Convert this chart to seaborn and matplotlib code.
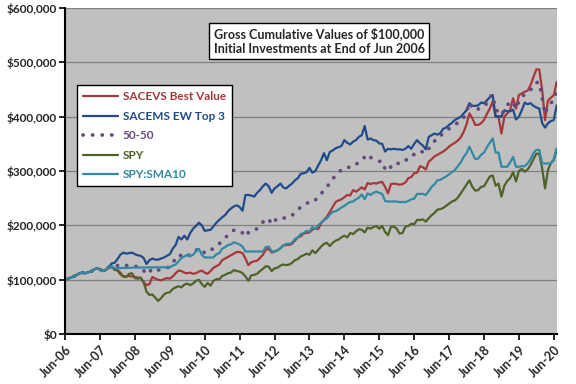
import pandas as pd
import matplotlib
matplotlib.use('Agg')
import matplotlib.pyplot as plt
from matplotlib.ticker import FuncFormatter
import seaborn as sns

# monthly gross values ($ thousands), Jun-06 .. Jul-20
sacevs = [
    100, 102, 104, 106, 109, 112, 113, 112, 114, 115, 119, 121,
    119, 116, 118, 123, 123, 120, 118, 113, 106, 106, 107, 106,
    105, 104, 103, 96, 90, 92, 105, 102, 100, 99, 101, 103,
    102, 106, 112, 117, 116, 113, 112, 113, 111, 112, 115, 117,
    113, 111, 116, 122, 125, 128, 136, 139, 142, 145, 148, 151,
    151, 149, 139, 127, 132, 134, 135, 140, 146, 155, 157, 150,
    152, 154, 158, 163, 164, 164, 166, 172, 178, 180, 185, 186,
    187, 192, 195, 193, 204, 210, 216, 225, 234, 243, 246, 248,
    252, 256, 255, 265, 262, 266, 270, 266, 278, 276, 278, 277,
    279, 280, 271, 259, 276, 277, 276, 275, 276, 279, 287, 289,
    296, 297, 309, 307, 303, 317, 322, 327, 330, 333, 336, 340,
    345, 349, 352, 356, 362, 372, 386, 406, 397, 385, 385, 388,
    394, 405, 415, 428, 400, 400, 369, 400, 406, 413, 434, 415,
    440, 443, 446, 448, 458, 473, 487, 487, 449, 394, 430, 435,
    440, 464]
sacems = [
    100, 102, 104, 106, 109, 112, 113, 112, 114, 115, 119, 121,
    119, 116, 118, 123, 130, 131, 138, 146, 150, 148, 149, 150,
    147, 145, 144, 140, 129, 136, 139, 137, 137, 139, 141, 144,
    147, 157, 164, 179, 174, 181, 174, 186, 194, 199, 205, 200,
    190, 191, 192, 198, 205, 210, 215, 219, 226, 231, 235, 237,
    234, 227, 256, 256, 255, 253, 260, 265, 272, 277, 272, 260,
    268, 272, 277, 270, 268, 273, 277, 283, 287, 295, 296, 298,
    306, 297, 300, 310, 320, 333, 320, 335, 338, 342, 344, 346,
    357, 352, 349, 354, 357, 363, 366, 383, 358, 360, 357, 356,
    351, 350, 336, 341, 340, 341, 340, 340, 339, 341, 346, 341,
    350, 357, 351, 347, 340, 363, 366, 369, 367, 370, 378, 380,
    385, 389, 394, 397, 400, 406, 412, 425, 420, 420, 421, 426,
    425, 430, 436, 440, 400, 401, 400, 412, 410, 410, 413, 395,
    400, 412, 426, 423, 425, 420, 417, 415, 388, 380, 388, 392,
    394, 421]
fifty_fifty = [
    100, 102, 104, 106, 109, 112, 113, 112, 114, 115, 119, 121,
    119, 116, 118, 123, 126, 125, 126, 128, 127, 126, 127, 127,
    125, 124, 122, 117, 110, 114, 121, 119, 118, 118, 120, 122,
    124, 131, 139, 146, 144, 145, 142, 148, 151, 154, 158, 155,
    149, 150, 154, 158, 162, 166, 172, 177, 182, 187, 191, 192,
    190, 186, 193, 186, 190, 191, 194, 199, 206, 212, 212, 202,
    208, 213, 215, 214, 213, 216, 218, 224, 228, 234, 238, 240,
    244, 248, 247, 251, 258, 265, 270, 279, 285, 293, 298, 302,
    305, 308, 306, 310, 312, 317, 320, 326, 320, 325, 323, 320,
    318, 318, 304, 300, 308, 315, 315, 313, 315, 319, 325, 326,
    331, 333, 337, 335, 333, 341, 350, 355, 363, 365, 369, 373,
    378, 381, 385, 389, 393, 398, 409, 426, 416, 412, 414, 418,
    419, 425, 437, 440, 412, 410, 403, 413, 421, 428, 426, 415,
    428, 437, 441, 445, 449, 458, 463, 463, 434, 405, 420, 425,
    432, 446]
spy = [
    100, 102, 104, 106, 109, 112, 113, 112, 114, 115, 119, 121,
    119, 116, 118, 123, 125, 118, 117, 110, 106, 105, 111, 112,
    103, 102, 104, 95, 78, 72, 73, 67, 61, 66, 73, 76,
    77, 83, 86, 88, 86, 91, 93, 90, 93, 98, 100, 92,
    87, 94, 89, 98, 101, 101, 107, 109, 112, 113, 118, 116,
    115, 112, 106, 98, 108, 109, 111, 116, 120, 125, 124, 116,
    121, 122, 126, 128, 127, 128, 131, 136, 138, 143, 145, 148,
    146, 154, 149, 155, 161, 166, 168, 162, 168, 172, 174, 178,
    181, 178, 186, 184, 189, 193, 192, 187, 196, 194, 197, 199,
    194, 199, 188, 182, 197, 198, 194, 185, 186, 198, 199, 203,
    202, 210, 210, 211, 207, 213, 219, 223, 229, 230, 232, 236,
    240, 244, 246, 251, 259, 267, 275, 283, 271, 264, 265, 271,
    272, 281, 290, 292, 273, 277, 253, 273, 282, 287, 298, 281,
    300, 304, 299, 303, 311, 322, 332, 332, 305, 268, 302, 315,
    321, 341]
spy_sma10 = [
    100, 102, 104, 106, 109, 112, 113, 112, 114, 115, 119, 121,
    119, 116, 118, 123, 125, 121, 121.3, 121.5, 121.7, 121.9, 122.1, 122.2,
    122.3, 122.4, 122.5, 122.6, 122.7, 122.8, 122.8, 122.8, 122.8, 122.8, 122.8, 122.8,
    123, 126, 128, 134, 140, 143, 146, 143, 146, 152, 157, 146,
    141, 141, 141, 141, 147, 149, 157, 160, 164, 165, 169, 167,
    165, 161, 152, 152, 152, 152, 152, 152, 152, 160, 161, 152,
    152, 154, 158, 163, 166, 166, 168, 175, 178, 184, 186, 190,
    188, 197, 193, 200, 205, 210, 213, 220, 225, 226, 229, 233,
    236, 240, 243, 244, 248, 251, 257, 248, 259, 256, 260, 262,
    260, 258, 245, 244, 244, 244, 244, 243, 243, 243, 245, 248,
    249, 258, 258, 258, 256, 263, 271, 276, 283, 284, 287, 290,
    294, 298, 302, 309, 316, 326, 333, 345, 333, 322, 323, 330,
    334, 344, 352, 360, 334, 334, 308, 308, 308, 316, 326, 308,
    308, 309, 309, 314, 322, 333, 339, 339, 314, 314, 314, 314,
    320, 341]

names = ['SACEVS Best Value', 'SACEMS EW Top 3', '50-50', 'SPY', 'SPY:SMA10']
series = [sacevs, sacems, fifty_fifty, spy, spy_sma10]
colors = ['#A8373A', '#1F4B8A', '#64497E', '#4F6228', '#3189A3']
tick_labels = ['Jun-%02d' % y for y in range(6, 21)]

sns.set_style('white', {'axes.facecolor': '#C0C0C0'})
plt.rcParams['font.family'] = ['Lato', 'DejaVu Sans']

fig = plt.figure(figsize=(5.76, 3.84), dpi=100)
ax = fig.add_axes([0.113, 0.130, 0.8535, 0.849])

months = list(range(len(spy)))
for name, vals, col in zip(names, series, colors):
    df = pd.DataFrame({'month': months, 'value': [v * 1000 for v in vals]})
    if name == '50-50':
        sns.lineplot(data=df, x='month', y='value', ax=ax, color=col, label=name,
                     linewidth=2.7, linestyle=(0, (0.05, 2.5)),
                     dash_capstyle='round')
    else:
        sns.lineplot(data=df, x='month', y='value', ax=ax, color=col, label=name,
                     linewidth=1.6)

# axes
ax.set_xlim(0, len(spy) - 1)
ax.set_ylim(0, 600000)
ax.set_yticks(range(0, 600001, 100000))
ax.yaxis.set_major_formatter(FuncFormatter(lambda v, p: '${:,.0f}'.format(v)))
ax.set_xticks(range(0, len(spy), 12))
ax.set_xticklabels(tick_labels, rotation=45, ha='right', rotation_mode='anchor')
ax.set_xlabel('')
ax.set_ylabel('')
ax.yaxis.grid(True, color='#808080', linewidth=0.9)
ax.set_axisbelow(True)
for s in ['top', 'right']:
    ax.spines[s].set_visible(False)
for s in ['left', 'bottom']:
    ax.spines[s].set_color('black')
    ax.spines[s].set_linewidth(1.5)
ax.tick_params(axis='both', direction='out', length=4, width=1.2, color='black',
               pad=2, left=True, bottom=True)
ax.tick_params(axis='y', labelsize=8.5)
ax.tick_params(axis='x', labelsize=9, pad=3)
for lab in ax.get_xticklabels() + ax.get_yticklabels():
    lab.set_fontweight('bold')

# title box
ax.text(0.517, 0.899, 'Gross Cumulative Values of $100,000\nInitial Investments at End of Jun 2006',
        transform=ax.transAxes, ha='center', va='center', fontsize=9, fontweight='bold',
        linespacing=1.3,
        bbox=dict(boxstyle='square,pad=0.35', facecolor='white', edgecolor='black', linewidth=1))

leg = ax.legend(loc='upper left', bbox_to_anchor=(0.025, 0.763), borderaxespad=0,
                frameon=True, fancybox=False,
                edgecolor='black', facecolor='white', framealpha=1, labelcolor='linecolor',
                prop={'weight': 'bold', 'size': 8.5}, handlelength=2.9, handletextpad=0.45,
                labelspacing=0.72, borderpad=0.5)
leg.get_frame().set_linewidth(1)

fig.savefig('out.png', dpi=100)
